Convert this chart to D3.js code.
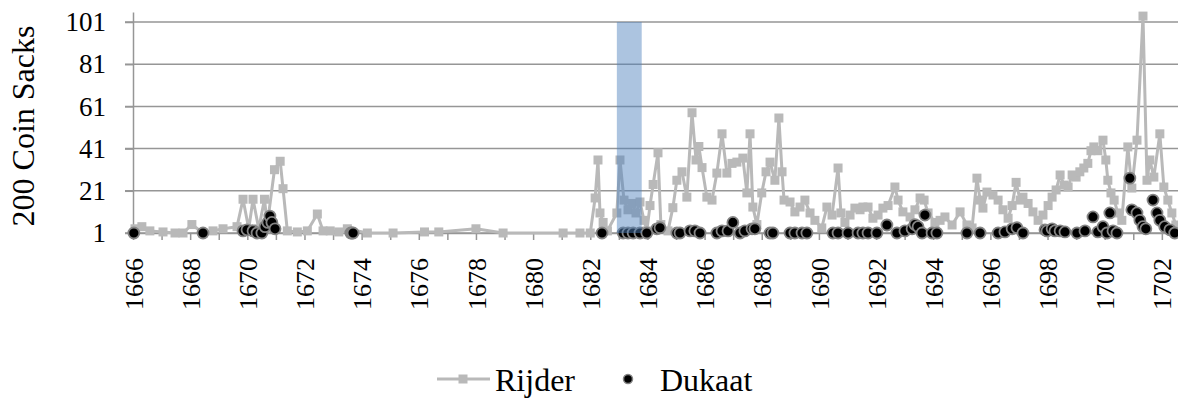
<!DOCTYPE html>
<html>
<head>
<meta charset="utf-8">
<script src="https://cdn.jsdelivr.net/npm/d3@7"></script>
</head>
<body style="margin:0">
<svg id="coins" width="1178" height="398"></svg>
<script>
// ---- data ----
const yearTicks = d3.range(1666, 1703);          // one tick per year
const yearLabels = d3.range(1666, 1703, 2);      // labelled every other year
const valueTicks = [1, 21, 41, 61, 81, 101];
const seriesNames = ["Rijder", "Dukaat"];
const axisTitle = "200 Coin Sacks";

const rijderYear = [
  1666.07, 1666.31, 1666.59, 1667.05, 1667.47, 1667.75, 1668.06, 1668.45, 1668.80, 1669.15,
  1669.64, 1669.85, 1670.05, 1670.20, 1670.40, 1670.60, 1670.70, 1670.95, 1671.15, 1671.25,
  1671.40, 1671.75, 1672.10, 1672.45, 1672.65, 1672.90, 1673.20, 1673.50, 1674.20, 1675.10,
  1676.20, 1676.70, 1678.00, 1678.95, 1681.05, 1681.64, 1682.00, 1682.17, 1682.27, 1682.34,
  1682.45, 1682.60, 1682.93, 1683.04, 1683.18, 1683.32, 1683.46, 1683.60, 1683.74, 1683.88,
  1683.98, 1684.09, 1684.20, 1684.37, 1684.47, 1684.72, 1684.89, 1685.03, 1685.21, 1685.38,
  1685.56, 1685.70, 1685.80, 1685.91, 1686.08, 1686.26, 1686.43, 1686.61, 1686.78, 1686.96,
  1687.13, 1687.34, 1687.48, 1687.59, 1687.69, 1687.83, 1688.00, 1688.15, 1688.29, 1688.46,
  1688.60, 1688.71, 1688.78, 1688.99, 1689.16, 1689.34, 1689.51, 1689.69, 1689.86, 1690.10,
  1690.28, 1690.46, 1690.67, 1690.77, 1690.91, 1691.09, 1691.26, 1691.44, 1691.54, 1691.72,
  1691.89, 1692.07, 1692.24, 1692.42, 1692.66, 1692.77, 1692.94, 1693.19, 1693.36, 1693.54,
  1693.68, 1693.82, 1694.06, 1694.24, 1694.41, 1694.66, 1694.94, 1695.18, 1695.36, 1695.53,
  1695.64, 1695.74, 1695.88, 1696.09, 1696.27, 1696.44, 1696.62, 1696.76, 1696.90, 1697.04,
  1697.14, 1697.32, 1697.49, 1697.67, 1697.84, 1698.02, 1698.16, 1698.30, 1698.44, 1698.58,
  1698.72, 1698.86, 1699.00, 1699.13, 1699.27, 1699.41, 1699.52, 1699.62, 1699.76, 1699.94,
  1700.04, 1700.11, 1700.22, 1700.33, 1700.46, 1700.60, 1700.81, 1700.95, 1701.13, 1701.34,
  1701.48, 1701.58, 1701.72, 1701.93, 1702.07, 1702.21, 1702.35, 1702.49
];
const rijderValue = [
  3, 4, 2, 1.5, 1, 1, 5, 1, 2, 3,
  4, 17, 3, 17, 3, 17, 5, 31, 35, 22,
  2, 1.5, 2, 10, 2, 2, 1.5, 3, 1, 1,
  1.5, 1.5, 3, 1, 1, 1, 1, 17.6, 35.6, 10.5,
  6, 2, 10.5, 35.6, 16.6, 12, 15, 10.5, 15.7, 7,
  2, 14, 24, 39, 5, 2, 13, 26, 30, 18,
  58, 35.6, 42, 32, 18, 16.6, 29.4, 48, 29.4, 34,
  34.6, 36.5, 20, 48, 13.3, 5, 20, 30, 34.6, 26,
  55.5, 30, 16.6, 15.7, 11, 13.3, 16.6, 10.5, 7, 3.4,
  13.3, 9.5, 31.8, 10.5, 6, 9.5, 12.8, 12, 13.3, 13.3,
  8, 9.5, 12.8, 14, 22.8, 16.6, 11, 8.6, 12, 17.6,
  16.6, 10.5, 6, 7, 8.6, 4.8, 11, 4.8, 3.4, 27,
  16.6, 12.8, 20.4, 19, 16.6, 12, 8, 14, 25, 16.6,
  18, 15, 11, 7, 9.5, 14, 18, 21.4, 28.5, 23.7,
  22.8, 28.5, 27.5, 30, 31.8, 34, 40, 41.8, 40, 45,
  35.6, 26, 20, 16.6, 10.5, 7, 41.8, 22.3, 45, 103.8,
  26, 35.6, 27.5, 48, 22.8, 16.6, 10.5, 4.8
];

const dukaatYear = [
  1666.03, 1668.45,
  1669.85, 1669.99, 1670.20, 1670.34, 1670.51, 1670.62, 1670.72, 1670.79, 1670.86, 1670.97,
  1673.62, 1673.66, 1673.70,
  1682.41, 1683.15, 1683.32, 1683.50, 1683.74, 1683.98, 1684.33, 1684.44,
  1685.03, 1685.14, 1685.49, 1685.66, 1685.84, 1686.43, 1686.61, 1686.82, 1686.99, 1687.24,
  1687.41, 1687.66, 1687.76, 1688.29, 1688.39, 1688.99, 1689.16, 1689.41, 1689.58, 1690.49,
  1690.67, 1691.02, 1691.37, 1691.54, 1691.72, 1692.03, 1692.38, 1692.73, 1693.01, 1693.26,
  1693.36, 1693.47, 1693.61, 1693.71, 1693.96, 1694.13, 1695.18, 1695.64, 1696.27, 1696.51,
  1696.76, 1696.93, 1697.14, 1697.91, 1697.98, 1698.16, 1698.26, 1698.44, 1698.61, 1699.03,
  1699.31, 1699.59, 1699.76, 1699.94, 1700.08, 1700.18, 1700.29, 1700.43, 1700.88, 1700.95,
  1701.13, 1701.23, 1701.34, 1701.44, 1701.69, 1701.83, 1701.93, 1702.10, 1702.28, 1702.45
];
const dukaatValue = [
  1, 1,
  2, 2.5, 2, 1, 1, 4, 6, 9, 6, 3,
  1, 1, 1,
  1, 1, 1, 1, 1, 1, 3, 3.5,
  1, 1, 2, 2, 1, 1, 2, 2, 6, 1,
  2, 3, 3, 1, 1, 1, 1, 1, 1, 1,
  1, 1, 1, 1, 1, 1, 4.8, 1, 2, 3,
  5, 4, 1, 9.5, 1, 1, 1, 1, 1, 1.5,
  3, 3.5, 1, 2.5, 2, 3, 2, 2, 1.5, 1,
  2, 8.6, 1.5, 4, 1, 10.5, 2, 1, 27, 12,
  10.5, 7, 4, 3, 16.6, 10.5, 7, 4, 2.5, 1
];

// shaded period
const highlightYears = [1682.93, 1683.8];
const highlightValues = [1, 101];

// ---- layout ----
const SERIF = "'Liberation Serif', 'Times New Roman', serif";
const svg = d3.select("#coins");
const x = d3.scaleLinear().domain([1666, 1702.6]).range([133, 1179]);
const y = d3.scaleLinear().domain([1, 105.74]).range([233, 12]);

const gridColor = "#969696";
const rijderColor = "#b9b9b9";

// serif text helper
function serif(sel, size) {
  return sel
    .attr("font-family", "Liberation Serif")
    .attr("font-size", size)
    .style("font-family", SERIF, "important")
    .style("font-size", size + "px", "important")
    .attr("fill", "#000");
}

// horizontal gridlines
svg.append("g")
  .selectAll("line")
  .data(valueTicks)
  .join("line")
  .attr("x1", 125).attr("x2", 1178)
  .attr("y1", d => y(d)).attr("y2", d => y(d))
  .attr("stroke", gridColor).attr("stroke-width", 1.5);

// value axis
const yAxis = svg.append("g")
  .attr("transform", "translate(133,0)")
  .call(d3.axisLeft(y).tickValues(valueTicks).tickSize(8).tickSizeOuter(0).tickPadding(19));
yAxis.attr("font-family", null).attr("font-size", null);
yAxis.select(".domain").attr("stroke", gridColor).attr("stroke-width", 1.5);
yAxis.selectAll(".tick line").attr("stroke", gridColor).attr("stroke-width", 1.5);
serif(yAxis.selectAll(".tick text"), 27);

// time axis
const xAxis = svg.append("g")
  .attr("transform", `translate(0,${y(1)})`)
  .call(d3.axisBottom(x).tickValues(yearTicks).tickSize(7).tickSizeOuter(0)
    .tickFormat(d => yearLabels.includes(d) ? String(d) : ""));
xAxis.attr("font-family", null).attr("font-size", null);
xAxis.select(".domain").attr("stroke", gridColor).attr("stroke-width", 1.5);
xAxis.selectAll(".tick line").attr("stroke", gridColor).attr("stroke-width", 1.5);
serif(xAxis.selectAll(".tick text"), 26)
  .attr("transform", "rotate(-90)")
  .attr("text-anchor", "end")
  .attr("x", -25)
  .attr("y", 0)
  .attr("dy", "0.35em");

// axis title
serif(svg.append("text"), 32)
  .attr("transform", "translate(34,126) rotate(-90)")
  .attr("text-anchor", "middle")
  .text(axisTitle);

// Rijder series: line with square markers
const rijder = rijderYear.map((t, i) => ({ t, v: rijderValue[i] }));
svg.append("path")
  .datum(rijder)
  .attr("fill", "none")
  .attr("stroke", rijderColor)
  .attr("stroke-width", 3)
  .attr("stroke-linejoin", "round")
  .attr("d", d3.line().x(d => x(d.t)).y(d => y(d.v)));

const sq = 9;
svg.append("g")
  .selectAll("rect")
  .data(rijder)
  .join("rect")
  .attr("x", d => x(d.t) - sq / 2)
  .attr("y", d => y(d.v) - sq / 2)
  .attr("width", sq).attr("height", sq)
  .attr("fill", rijderColor);

// Dukaat series: dots only
const dukaat = dukaatYear.map((t, i) => ({ t, v: dukaatValue[i] }));
svg.append("g")
  .selectAll("circle")
  .data(dukaat)
  .join("circle")
  .attr("cx", d => x(d.t))
  .attr("cy", d => y(d.v))
  .attr("r", 5.5)
  .attr("fill", "#000")
  .attr("stroke", "#858585")
  .attr("stroke-width", 1.8);

// shaded period band
svg.append("rect")
  .attr("x", x(highlightYears[0]))
  .attr("width", x(highlightYears[1]) - x(highlightYears[0]))
  .attr("y", y(highlightValues[1]))
  .attr("height", y(highlightValues[0]) - y(highlightValues[1]))
  .attr("fill", "rgb(79,129,189)")
  .attr("fill-opacity", 0.47);

// legend
const legend = svg.append("g");
legend.append("line")
  .attr("x1", 437).attr("x2", 490).attr("y1", 379).attr("y2", 379)
  .attr("stroke", rijderColor).attr("stroke-width", 3);
legend.append("rect")
  .attr("x", 463 - sq / 2).attr("y", 379 - sq / 2)
  .attr("width", sq).attr("height", sq)
  .attr("fill", rijderColor);
serif(legend.append("text"), 32)
  .attr("x", 495).attr("y", 391)
  .text(seriesNames[0]);
legend.append("circle")
  .attr("cx", 628).attr("cy", 379).attr("r", 4.5)
  .attr("fill", "#000").attr("stroke", "#858585").attr("stroke-width", 1.5);
serif(legend.append("text"), 32)
  .attr("x", 660).attr("y", 391)
  .text(seriesNames[1]);
</script>
</body>
</html>
